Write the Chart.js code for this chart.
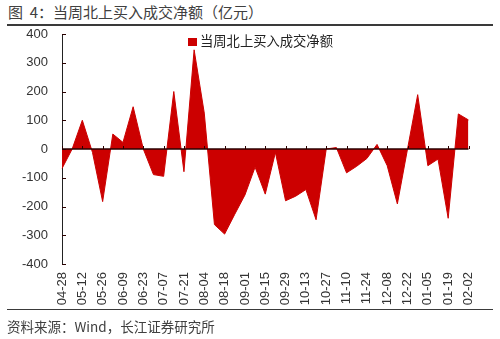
<!DOCTYPE html>
<html>
<head>
<meta charset="utf-8">
<script src="https://cdn.jsdelivr.net/npm/chart.js@4.4.1/dist/chart.umd.min.js"></script>
<style>
  html, body { margin: 0; padding: 0; background: #fff; }
  #wrap { position: relative; width: 500px; height: 339px; overflow: hidden; }
  #chart { position: absolute; left: 0; top: 0; }
  .title { position: absolute; left: 8px; top: 3px; font: 15px "Noto Sans CJK SC", sans-serif; color: #404040; line-height: 18px; white-space: nowrap; }
  .rule { position: absolute; left: 7px; width: 486px; height: 1.5px; background: #3a3a3a; }
  .source { position: absolute; left: 7px; top: 317px; font: 13.5px "Noto Sans CJK SC", sans-serif; color: #404040; line-height: 18px; white-space: nowrap; }
  .legend { position: absolute; left: 188px; top: 32px; font: 13.3px "Noto Sans CJK SC", sans-serif; color: #222; line-height: 17px; white-space: nowrap; }
  .legend i { display: inline-block; width: 9px; height: 8px; background: #cc0000; margin-right: 3px; vertical-align: 0px; }
</style>
</head>
<body>
<div id="wrap">
  <div class="title">图&nbsp;&nbsp;4：当周北上买入成交净额（亿元）</div>
  <div class="rule" style="top:24px"></div>
  <canvas id="chart" width="500" height="339"></canvas>
  <div class="legend" id="legend"></div>
  <div class="rule" style="top:308.5px"></div>
  <div class="source">资料来源：Wind，长江证券研究所</div>
</div>
<script>
// weekly dates (only every second one is labelled on the axis)
const weeks = [
  '04-28', '05-05', '05-12', '05-19', '05-26', '06-02', '06-09', '06-16', '06-23', '06-30',
  '07-07', '07-14', '07-21', '07-28', '08-04', '08-11', '08-18', '08-25', '09-01', '09-08',
  '09-15', '09-22', '09-29', '10-06', '10-13', '10-20', '10-27', '11-03', '11-10', '11-17',
  '11-24', '12-01', '12-08', '12-15', '12-22', '12-29', '01-05', '01-12', '01-19', '01-26',
  '02-02'
];

// 当周北上买入成交净额 (亿元)
const netBuy = [
  -68, 0, 100, -12, -183, 52, 23, 147, 0, -89,
  -95, 200, -79, 345, 125, -263, -296, -227, -160, -63,
  -157, -12, -180, -164, -141, -246, 0, 5, -83, -60,
  -33, 16, -58, -191, 0, 189, -58, -35, -241, 122,
  101
];

const yTicks = [-400, -300, -200, -100, 0, 100, 200, 300, 400];

const seriesName = '当周北上买入成交净额';
const red = '#cc0000';
const axisFont = { family: '"Liberation Sans", Arial, sans-serif', size: 13 };

// zero line with upward ticks, and inward ticks on the y axis
const axisDecor = {
  id: 'axisDecor',
  afterDatasetsDraw(chart) {
    const { ctx, chartArea, scales } = chart;
    const x = scales.x, y = scales.y;
    const y0 = y.getPixelForValue(0);
    ctx.save();
    ctx.strokeStyle = '#2a0000';
    ctx.lineWidth = 1.5;
    ctx.beginPath();
    ctx.moveTo(chartArea.left, y0);
    ctx.lineTo(chartArea.right, y0);
    ctx.stroke();
    ctx.lineWidth = 1;
    ctx.beginPath();
    weeks.forEach((w, i) => {
      if (i % 2 !== 0) return;
      const px = Math.round(x.getPixelForValue(i)) + 0.5;
      ctx.moveTo(px, y0);
      ctx.lineTo(px, y0 - 3);
    });
    yTicks.forEach(v => {
      const py = Math.round(y.getPixelForValue(v)) + 0.5;
      ctx.moveTo(chartArea.left, py);
      ctx.lineTo(chartArea.left + 4, py);
    });
    ctx.stroke();
    ctx.restore();
  }
};

const chart = new Chart(document.getElementById('chart'), {
  type: 'line',
  data: {
    labels: weeks,
    datasets: [{
      label: seriesName,
      data: netBuy,
      fill: 'origin',
      backgroundColor: red,
      borderColor: red,
      borderWidth: 1,
      pointRadius: 0,
      tension: 0
    }]
  },
  options: {
    responsive: false,
    animation: false,
    layout: { padding: { left: 0, right: 31.5, top: 34, bottom: 33 } },
    plugins: {
      tooltip: { enabled: false },
      legend: { display: false }
    },
    scales: {
      x: {
        offset: false,
        grid: { display: false, drawTicks: false },
        border: { display: false },
        afterFit: s => { s.height = 42; },
        ticks: {
          autoSkip: false,
          minRotation: 90,
          maxRotation: 90,
          padding: 8,
          color: '#333',
          font: axisFont,
          callback: (v, i) => (i % 2 === 0 ? weeks[i] : '')
        }
      },
      y: {
        min: -400,
        max: 400,
        grid: { display: false, drawTicks: false },
        border: { display: true, color: '#222', width: 1 },
        afterFit: s => { s.width = 62; },
        ticks: { stepSize: 100, padding: 14, color: '#333', font: axisFont }
      }
    }
  },
  plugins: [axisDecor]
});

// legend box built from the dataset
const ds = chart.data.datasets[0];
document.getElementById('legend').innerHTML =
  '<i style="background:' + ds.backgroundColor + '"></i>' + ds.label;
</script>
</body>
</html>
